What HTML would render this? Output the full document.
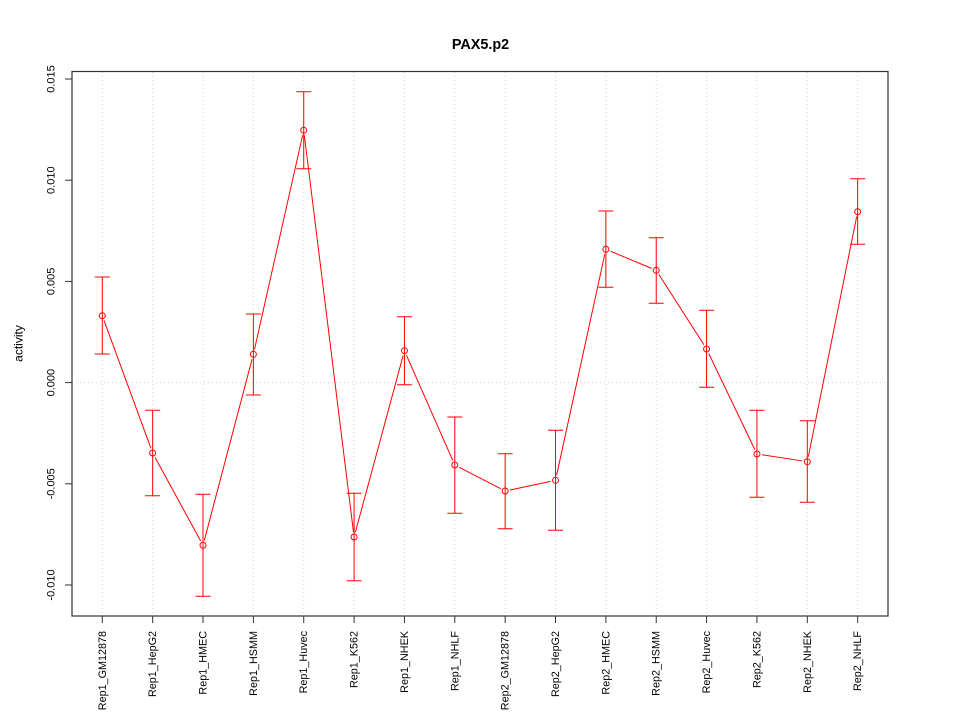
<!DOCTYPE html>
<html><head><meta charset="utf-8"><style>
html,body{margin:0;padding:0;background:#fff;}
svg{display:block;}
text{font-family:"Liberation Sans",Arial,sans-serif;fill:#000;}
</style></head><body>
<svg width="960" height="720" viewBox="0 0 960 720" xmlns="http://www.w3.org/2000/svg">
<rect width="960" height="720" fill="#fff"/>
<!-- grid -->
<g stroke="#D3D3D3" stroke-width="1" stroke-dasharray="1,3" fill="none">
<line x1="102.3" y1="72" x2="102.3" y2="616"/>
<line x1="152.66" y1="72" x2="152.66" y2="616"/>
<line x1="203.01" y1="72" x2="203.01" y2="616"/>
<line x1="253.37" y1="72" x2="253.37" y2="616"/>
<line x1="303.73" y1="72" x2="303.73" y2="616"/>
<line x1="354.09" y1="72" x2="354.09" y2="616"/>
<line x1="404.44" y1="72" x2="404.44" y2="616"/>
<line x1="454.8" y1="72" x2="454.8" y2="616"/>
<line x1="505.16" y1="72" x2="505.16" y2="616"/>
<line x1="555.51" y1="72" x2="555.51" y2="616"/>
<line x1="605.87" y1="72" x2="605.87" y2="616"/>
<line x1="656.23" y1="72" x2="656.23" y2="616"/>
<line x1="706.58" y1="72" x2="706.58" y2="616"/>
<line x1="756.94" y1="72" x2="756.94" y2="616"/>
<line x1="807.3" y1="72" x2="807.3" y2="616"/>
<line x1="857.66" y1="72" x2="857.66" y2="616"/>
<line x1="72" y1="382.6" x2="888" y2="382.6"/>
</g>
<!-- box -->
<rect x="72" y="71.5" width="816" height="544.5" fill="none" stroke="#333" stroke-width="1.2"/>
<!-- y ticks -->
<g stroke="#333" stroke-width="1">
<line x1="65" y1="79" x2="72" y2="79"/>
<line x1="65" y1="180.2" x2="72" y2="180.2"/>
<line x1="65" y1="281.4" x2="72" y2="281.4"/>
<line x1="65" y1="382.6" x2="72" y2="382.6"/>
<line x1="65" y1="483.8" x2="72" y2="483.8"/>
<line x1="65" y1="585" x2="72" y2="585"/>
</g>
<g font-size="11" text-anchor="middle">
<text transform="translate(54.5,79) rotate(-90)">0.015</text>
<text transform="translate(54.5,180.2) rotate(-90)">0.010</text>
<text transform="translate(54.5,281.4) rotate(-90)">0.005</text>
<text transform="translate(54.5,382.6) rotate(-90)">0.000</text>
<text transform="translate(54.5,483.8) rotate(-90)">-0.005</text>
<text transform="translate(54.5,585) rotate(-90)">-0.010</text>
</g>
<text transform="translate(22.5,343.5) rotate(-90)" font-size="12" text-anchor="middle">activity</text>
<!-- x ticks -->
<g stroke="#333" stroke-width="1">
<line x1="102.3" y1="616" x2="102.3" y2="623"/>
<line x1="152.66" y1="616" x2="152.66" y2="623"/>
<line x1="203.01" y1="616" x2="203.01" y2="623"/>
<line x1="253.37" y1="616" x2="253.37" y2="623"/>
<line x1="303.73" y1="616" x2="303.73" y2="623"/>
<line x1="354.09" y1="616" x2="354.09" y2="623"/>
<line x1="404.44" y1="616" x2="404.44" y2="623"/>
<line x1="454.8" y1="616" x2="454.8" y2="623"/>
<line x1="505.16" y1="616" x2="505.16" y2="623"/>
<line x1="555.51" y1="616" x2="555.51" y2="623"/>
<line x1="605.87" y1="616" x2="605.87" y2="623"/>
<line x1="656.23" y1="616" x2="656.23" y2="623"/>
<line x1="706.58" y1="616" x2="706.58" y2="623"/>
<line x1="756.94" y1="616" x2="756.94" y2="623"/>
<line x1="807.3" y1="616" x2="807.3" y2="623"/>
<line x1="857.66" y1="616" x2="857.66" y2="623"/>
</g>
<g font-size="10.8" text-anchor="end">
<text transform="translate(105.8,631) rotate(-90)">Rep1_GM12878</text>
<text transform="translate(156.16,631) rotate(-90)">Rep1_HepG2</text>
<text transform="translate(206.51,631) rotate(-90)">Rep1_HMEC</text>
<text transform="translate(256.87,631) rotate(-90)">Rep1_HSMM</text>
<text transform="translate(307.23,631) rotate(-90)">Rep1_Huvec</text>
<text transform="translate(357.59,631) rotate(-90)">Rep1_K562</text>
<text transform="translate(407.94,631) rotate(-90)">Rep1_NHEK</text>
<text transform="translate(458.3,631) rotate(-90)">Rep1_NHLF</text>
<text transform="translate(508.66,631) rotate(-90)">Rep2_GM12878</text>
<text transform="translate(559.01,631) rotate(-90)">Rep2_HepG2</text>
<text transform="translate(609.37,631) rotate(-90)">Rep2_HMEC</text>
<text transform="translate(659.73,631) rotate(-90)">Rep2_HSMM</text>
<text transform="translate(710.08,631) rotate(-90)">Rep2_Huvec</text>
<text transform="translate(760.44,631) rotate(-90)">Rep2_K562</text>
<text transform="translate(810.8,631) rotate(-90)">Rep2_NHEK</text>
<text transform="translate(861.16,631) rotate(-90)">Rep2_NHLF</text>
</g>
<!-- title -->
<text x="480.5" y="49" font-size="14.4" font-weight="bold" text-anchor="middle">PAX5.p2</text>
<!-- error bars -->
<g stroke="#FF0000" stroke-width="1" fill="none">
<path d="M102.3 277V354M94.8 277H109.8M94.8 354H109.8"/>
<path d="M152.66 410.3V495.7M145.16 410.3H160.16M145.16 495.7H160.16"/>
<path d="M203.01 494.3V596.3M195.51 494.3H210.51M195.51 596.3H210.51"/>
<path d="M253.37 314V395M245.87 314H260.87M245.87 395H260.87"/>
<path d="M303.73 91.7V168.7M296.23 91.7H311.23M296.23 168.7H311.23"/>
<path d="M354.09 493.3V580.7M346.59 493.3H361.59M346.59 580.7H361.59"/>
<path d="M404.44 316.7V384.7M396.94 316.7H411.94M396.94 384.7H411.94"/>
<path d="M454.8 417V513.3M447.3 417H462.3M447.3 513.3H462.3"/>
<path d="M505.16 453.7V528.7M497.66 453.7H512.66M497.66 528.7H512.66"/>
<path d="M555.51 430.3V530.3M548.01 430.3H563.01M548.01 530.3H563.01"/>
<path d="M605.87 211V287.3M598.37 211H613.37M598.37 287.3H613.37"/>
<path d="M656.23 237.7V303.3M648.73 237.7H663.73M648.73 303.3H663.73"/>
<path d="M706.58 310.3V387.3M699.08 310.3H714.08M699.08 387.3H714.08"/>
<path d="M756.94 410.3V497.3M749.44 410.3H764.44M749.44 497.3H764.44"/>
<path d="M807.3 420.7V502.3M799.8 420.7H814.8M799.8 502.3H814.8"/>
<path d="M857.66 178.7V244.3M850.16 178.7H865.16M850.16 244.3H865.16"/>
</g>
<!-- connecting lines -->
<g stroke="#FF0000" stroke-width="1" fill="none">
<line x1="104.02" y1="320.4" x2="150.94" y2="448.3"/>
<line x1="155.06" y1="457.39" x2="200.61" y2="540.91"/>
<line x1="204.28" y1="540.46" x2="252.10" y2="359.14"/>
<line x1="254.47" y1="349.42" x2="302.63" y2="135.18"/>
<line x1="304.34" y1="135.26" x2="353.48" y2="532.04"/>
<line x1="355.39" y1="532.17" x2="403.14" y2="355.53"/>
<line x1="406.46" y1="355.28" x2="452.78" y2="460.42"/>
<line x1="459.24" y1="467.29" x2="500.72" y2="488.71"/>
<line x1="510.05" y1="489.96" x2="550.62" y2="481.34"/>
<line x1="556.58" y1="475.41" x2="604.80" y2="254.19"/>
<line x1="610.49" y1="251.22" x2="651.61" y2="268.38"/>
<line x1="658.92" y1="274.51" x2="703.89" y2="344.79"/>
<line x1="708.74" y1="353.51" x2="754.78" y2="449.49"/>
<line x1="761.88" y1="454.76" x2="802.36" y2="460.94"/>
<line x1="808.29" y1="456.8" x2="856.67" y2="216.6"/>
</g>
<!-- points -->
<g stroke="#FF0000" stroke-width="1" fill="none">
<circle cx="102.3" cy="315.7" r="3"/>
<circle cx="152.66" cy="453" r="3"/>
<circle cx="203.01" cy="545.3" r="3"/>
<circle cx="253.37" cy="354.3" r="3"/>
<circle cx="303.73" cy="130.3" r="3"/>
<circle cx="354.09" cy="537" r="3"/>
<circle cx="404.44" cy="350.7" r="3"/>
<circle cx="454.8" cy="465" r="3"/>
<circle cx="505.16" cy="491" r="3"/>
<circle cx="555.51" cy="480.3" r="3"/>
<circle cx="605.87" cy="249.3" r="3"/>
<circle cx="656.23" cy="270.3" r="3"/>
<circle cx="706.58" cy="349" r="3"/>
<circle cx="756.94" cy="454" r="3"/>
<circle cx="807.3" cy="461.7" r="3"/>
<circle cx="857.66" cy="211.7" r="3"/>
</g>
</svg>
</body></html>
